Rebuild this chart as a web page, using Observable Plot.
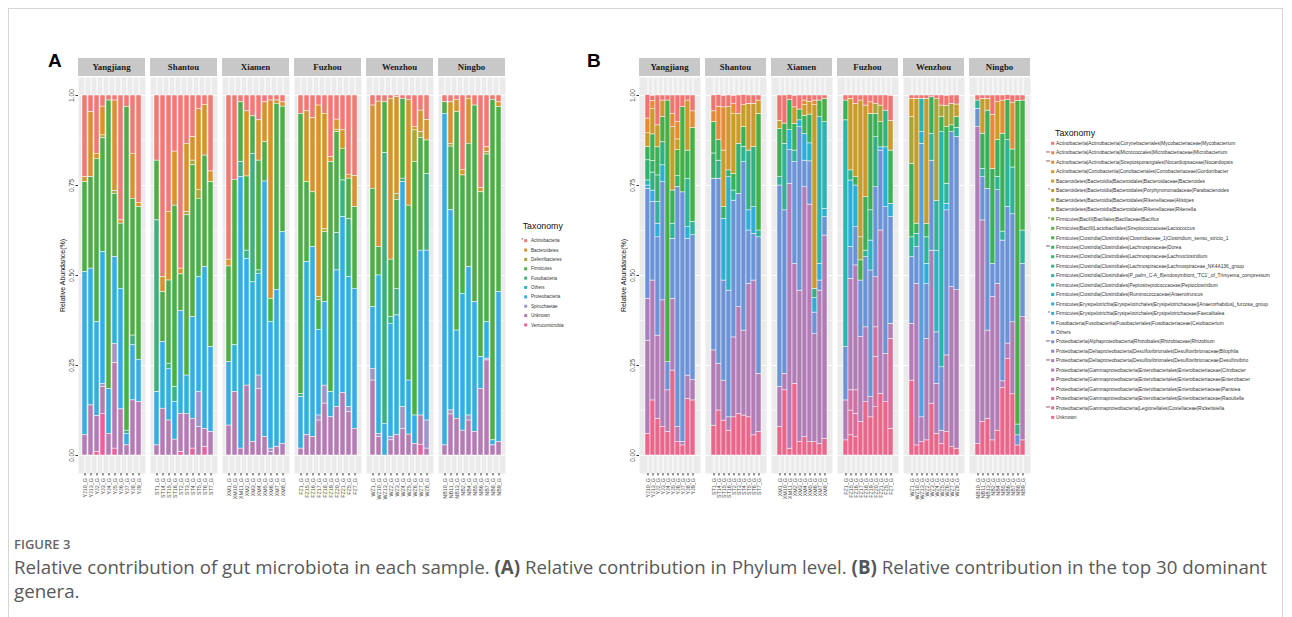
<!DOCTYPE html>
<html><head><meta charset="utf-8">
<script src="https://cdn.jsdelivr.net/npm/d3@7"></script>
<script src="https://cdn.jsdelivr.net/npm/@observablehq/plot@0.6"></script>
<style>
body{margin:0;background:#fff;width:1292px;height:617px;overflow:hidden;position:relative;font-family:"Liberation Sans",Arial,sans-serif;}
#frame{position:absolute;left:8px;top:8px;width:1275px;height:700px;border:1px solid #d6d6d6;box-sizing:border-box;}
.panel{position:absolute;top:50px;}
#panelA{left:40px;}
#panelB{left:580px;}
#overlay{position:absolute;left:0;top:0;}
#cap1{position:absolute;left:14px;top:535px;font:600 13px "Open Sans",sans-serif;color:#666;}
#cap2{position:absolute;left:14px;top:555px;font:18.7px/24px "Open Sans",sans-serif;color:#595959;white-space:nowrap;}
#cap2 b{font-weight:700;color:#555;}
</style></head><body>
<div id="frame"></div>
<div id="panelA" class="panel"></div>
<div id="panelB" class="panel"></div>
<svg id="overlay" width="1292" height="617"></svg>
<div id="cap1">FIGURE 3</div>
<div id="cap2">Relative contribution of gut microbiota in each sample. <b>(A)</b> Relative contribution in Phylum level. <b>(B)</b> Relative contribution in the top 30 dominant<br>genera.</div>
<script>
// ---------- categories ----------
const sites = ["Yangjiang","Shantou","Xiamen","Fuzhou","Wenzhou","Ningbo"];
const yangjiangSamples = ["YJ10_G","YJ13_G","YJ2_G","YJ3_G","YJ4_G","YJ5_G","YJ6_G","YJ7_G","YJ8_G","YJ9_G"];
const shantouSamples = ["ST1_G","ST14_G","ST15_G","ST16_G","ST2_G","ST3_G","ST4_G","ST5_G","ST6_G","ST7_G"];
const xiamenSamples = ["XM1_G","XM10_G","XM11_G","XM2_G","XM3_G","XM4_G","XM5_G","XM6_G","XM7_G","XM8_G"];
const fuzhouSamples = ["FZ1_G","FZ15_G","FZ16_G","FZ17_G","FZ18_G","FZ19_G","FZ20_G","FZ21_G","FZ5_G","FZ7_G"];
const wenzhouSamples = ["WZ1_G","WZ10_G","WZ13_G","WZ2_G","WZ3_G","WZ4_G","WZ5_G","WZ6_G","WZ7_G","WZ8_G"];
const ningboSamples = ["NB10_G","NB11_G","NB13_G","NB2_G","NB4_G","NB5_G","NB6_G","NB7_G","NB8_G","NB9_G"];
const yTicks = [0, 0.25, 0.5, 0.75, 1];
const yMinorTicks = [0.125, 0.375, 0.625, 0.875];
const yTitle = "Relative Abundance(%)";
const legendTitle = "Taxonomy";

// ---------- Panel A : phylum level (% per sample, samples in order above) ----------
const phyla = ["Actinobacteria","Bacteroidetes","Deferribacteres","Firmicutes","Fusobacteria","Others","Proteobacteria","Spirochaetae","Unknown","Verrucomicrobia"];
const phylaMarks = ["*","","","","","","","","",""];
const phylaColors = ["#F07A73","#D8922B","#A9A63B","#4CAE44","#3DB07D","#2BB6C0","#33ADE2","#9B95CC","#B47BB5","#E8619C"];
const actinobacteria = [22.7,4.6,16.2,3.1,1.4,1.4,34.7,3.2,16.2,29.8, 18.1,50.5,32.4,15.6,48.1,13.4,11.6,3.7,2.6,21.1, 45.6,23.4,1.9,4.4,5.8,6.9,1.9,1.4,1.4,1.9, 5.1,4.4,6.3,2.8,5.1,17.1,6.7,9.7,22.0,22.4, 2.8,1.7,1.9,0.9,0.5,0.9,1.2,8.8,4.2,6.8, 1.9,1.9,1.2,20.8,0.9,2.8,25.7,14.4,1.2,1.9];
const bacteroidetes = [1.4,18.1,1.4,8.0,0,25.2,0.9,0,12.5,1.2, 0,4.1,19.0,15.0,1.6,19.0,6.5,22.5,14.1,3.0, 1.9,0,0,18.1,0,11.2,11.1,55.1,0.9,1.2, 0,19.7,20.6,53.2,32.1,1.4,2.8,5.1,1.1,8.6, 23.1,40.4,0,44.7,26.8,0,29.4,0.9,6.0,5.7, 0,11.5,3.4,1.4,12.5,0,1.2,1.3,0,1.3];
const deferribacteres = [0,0,0,0.8,0,0.7,0,0,0,0, 0,0,0,0,0,0.9,1.3,2.5,0,0, 0,0,0,0,0,0,0,0,0,0, 0,0,0,0.9,0.8,0,0.7,0,0,0, 0,0,0,0,1.7,0,0,8.8,1.6,0, 0,0.8,0,0,0,0,0,0.7,0,0];
const firmicutes = [25.0,25.4,45.4,31.6,80.1,17.6,18.1,89.9,38.0,42.4, 16.6,13.9,23.1,50.4,10.2,44.5,42.2,21.8,31.0,45.8, 26.6,46.0,16.6,20.6,10.4,30.5,10.9,6.5,51.7,34.9, 77.8,22.2,15.2,8.2,19.4,63.9,28.0,8.8,11.3,22.7, 32.9,7.9,14.1,16.0,24.7,22.2,48.6,70.4,31.3,9.3, 3.2,17.7,60.7,32.9,34.3,54.6,45.8,46.6,94.6,51.4];
const fusobacteria = [0,0,0,0,0,0,0,0.9,2.7,0, 47.7,0,1.4,4.2,0,0,0,0,0,0, 0,0,4.2,2.3,35.7,0.9,0,0,0,0, 0.9,0,0,0,0,0,10.4,10.2,16.1,0, 0,0,75.2,1.8,7.4,1.0,0,0,0,21.3, 0,0,0,0,0,0,0,0,0,0];
const othersA = [0,0,0,0,0,0,0,0,0,0, 0,0,0,0,0,0,0,0,0,0, 0,0,0,0,0,0,0,0,0,0, 0,0,0,0,0,0,0,0,0,0, 0,0,0,0,0,0,0,0,0,0, 0,0,0,0,0,0,0,0,0,0];
const proteobacteria = [45.3,38.0,26.1,36.6,12.5,24.1,33.5,3.2,15.3,11.8, 14.8,18.5,14.4,10.4,28.5,10.6,28.2,31.9,44.9,23.6, 17.6,13.0,75.4,35.2,44.4,28.3,71.0,35.1,43.7,58.8, 14.3,48.1,52.8,23.8,23.2,7.0,38.0,48.9,36.1,38.9, 17.1,44.0,8.8,31.5,33.3,62.5,15.0,7.9,45.8,47.2, 92.1,55.6,24.5,38.0,41.2,36.1,8.8,10.1,1.4,41.7];
const spirochaetae = [0,0,0,0.9,0,5.3,0,0,0,0, 0,0,0,0,0,0,0,9.7,0,0, 0,0,0,0,0,3.7,0,1.0,0,0, 0,0,0,1.4,5.0,0,0,0,1.4,0, 3.3,0.9,0,0.9,0,6.0,0,0,0,7.8, 0,1.1,0,0,1.4,0,0,0.5,0,0];
const unknownA = [5.6,13.9,10.0,7.4,6.0,23.8,12.8,2.8,15.3,14.8, 2.8,13.0,9.7,4.4,10.7,11.6,8.3,7.9,5.1,6.5, 8.3,17.6,1.9,19.4,3.7,18.5,5.1,0.9,2.3,3.2, 1.9,5.6,5.1,9.7,14.4,10.6,13.4,17.3,12.0,7.4, 20.8,5.1,0,4.2,5.6,7.4,5.8,3.2,8.1,1.9, 2.8,11.4,10.2,6.9,9.7,6.5,18.5,26.4,2.8,3.7];
const verrucomicrobia = [0,0,0.9,11.6,0,1.9,0,0,0,0, 0,0,0,0,0.9,0,1.9,0,2.3,0, 0,0,0,0,0,0,0,0,0,0, 0,0,0,0,0,0,0,0,0,0, 0,0,0,0,0,0,0,0,3.0,0, 0,0,0,0,0,0,0,0,0,0];
const phylumSeries = [actinobacteria,bacteroidetes,deferribacteres,firmicutes,fusobacteria,othersA,proteobacteria,spirochaetae,unknownA,verrucomicrobia];

// ---------- Panel B : top 30 genera ----------
const genera = [
"Actinobacteria|Actinobacteria|Corynebacteriales|Mycobacteriaceae|Mycobacterium",
"Actinobacteria|Actinobacteria|Micrococcales|Microbacteriaceae|Microbacterium",
"Actinobacteria|Actinobacteria|Streptosporangiales|Nocardiopsaceae|Nocardiopsis",
"Actinobacteria|Coriobacteriia|Coriobacteriales|Coriobacteriaceae|Gordonibacter",
"Bacteroidetes|Bacteroidia|Bacteroidales|Bacteroidaceae|Bacteroides",
"Bacteroidetes|Bacteroidia|Bacteroidales|Porphyromonadaceae|Parabacteroides",
"Bacteroidetes|Bacteroidia|Bacteroidales|Rikenellaceae|Alistipes",
"Bacteroidetes|Bacteroidia|Bacteroidales|Rikenellaceae|Rikenella",
"Firmicutes|Bacilli|Bacillales|Bacillaceae|Bacillus",
"Firmicutes|Bacilli|Lactobacillales|Streptococcaceae|Lactococcus",
"Firmicutes|Clostridia|Clostridiales|Clostridiaceae_1|Clostridium_sensu_stricto_1",
"Firmicutes|Clostridia|Clostridiales|Lachnospiraceae|Dorea",
"Firmicutes|Clostridia|Clostridiales|Lachnospiraceae|Lachnoclostridium",
"Firmicutes|Clostridia|Clostridiales|Lachnospiraceae|Lachnospiraceae_NK4A136_group",
"Firmicutes|Clostridia|Clostridiales|P_palm_C-A_8|endosymbiont_'TC1'_of_Trimyema_compressum",
"Firmicutes|Clostridia|Clostridiales|Peptostreptococcaceae|Peptoclostridium",
"Firmicutes|Clostridia|Clostridiales|Ruminococcaceae|Anaerotruncus",
"Firmicutes|Erysipelotrichia|Erysipelotrichales|Erysipelotrichaceae|[Anaerorhabdus]_furcosa_group",
"Firmicutes|Erysipelotrichia|Erysipelotrichales|Erysipelotrichaceae|Faecalitalea",
"Fusobacteria|Fusobacteriia|Fusobacteriales|Fusobacteriaceae|Cetobacterium",
"Others",
"Proteobacteria|Alphaproteobacteria|Rhizobiales|Rhizobiaceae|Rhizobium",
"Proteobacteria|Deltaproteobacteria|Desulfovibrionales|Desulfovibrionaceae|Bilophila",
"Proteobacteria|Deltaproteobacteria|Desulfovibrionales|Desulfovibrionaceae|Desulfovibrio",
"Proteobacteria|Gammaproteobacteria|Enterobacteriales|Enterobacteriaceae|Citrobacter",
"Proteobacteria|Gammaproteobacteria|Enterobacteriales|Enterobacteriaceae|Enterobacter",
"Proteobacteria|Gammaproteobacteria|Enterobacteriales|Enterobacteriaceae|Pantoea",
"Proteobacteria|Gammaproteobacteria|Enterobacteriales|Enterobacteriaceae|Raoultella",
"Proteobacteria|Gammaproteobacteria|Legionellales|Coxiellaceae|Rickettsiella",
"Unknown"];
const generaMarks = ["","**","**","","","*","","","*","","","**","","","","","","","*","","","**","","**","","","","","**",""];
const generaColors = ["#F07470","#EE8050","#E88A35","#DA9628","#C99B2A","#B8A030","#A6A536","#92AA38","#7AAE3A","#5EB13E",
"#45B045","#3BB058","#37B06E","#33B083","#2FB298","#2BB3AD","#2AB3C2","#2CAFD6","#3EA8E2","#559FE2",
"#6C93D6","#8289CE","#9683C6","#A67FBF","#B27CB7","#C277AD","#CE72A4","#D96E9B","#E26A93","#EA678B"];
// each sample: [genus index, % abundance]
const generaYangjiang = [
 [[29,6.0],[24,25.9],[23,11.6],[20,30.6],[18,0.9],[15,1.4],[12,5.6],[11,3.7],[4,3.8],[2,4.1],[0,6.5]],
 [[29,15.3],[24,33.3],[20,21.8],[18,3.2],[13,5.0],[12,3.2],[11,7.4],[4,7.0],[2,2.3],[0,1.4]],
 [[29,10.2],[24,23.1],[20,27.3],[17,3.8],[14,6.0],[12,7.4],[11,7.8],[4,6.1],[0,8.3]],
 [[29,7.9],[24,35.2],[20,32.8],[17,4.7],[13,6.4],[10,7.0],[4,4.6],[0,1.4]],
 [[29,6.5],[24,11.6],[20,7.8],[10,72.7],[0,1.4]],
 [[29,23.6],[24,19.9],[20,16.7],[14,4.2],[11,9.2],[4,17.6],[2,3.7],[0,5.1]],
 [[29,3.7],[24,4.2],[20,66.7],[12,3.0],[10,7.2],[4,3.0],[2,4.8],[0,7.4]],
 [[29,2.8],[24,1.0],[20,69.3],[10,23.7],[0,3.2]],
 [[29,15.7],[24,6.5],[20,38.0],[17,3.2],[14,13.4],[11,7.9],[4,13.9],[0,1.4]],
 [[29,15.3],[24,5.6],[20,40.3],[14,3.7],[10,26.1],[2,4.6],[0,4.4]]];
const generaShantou = [
 [[29,8.3],[24,20.9],[20,47.7],[12,7.0],[11,8.7],[2,3.0],[0,4.4]],
 [[29,12.5],[24,13.0],[20,51.4],[13,5.0],[11,5.7],[2,9.3],[0,3.2]],
 [[29,9.7],[24,11.1],[20,27.8],[17,17.1],[12,3.3],[4,15.7],[2,12.0],[0,3.2]],
 [[29,6.9],[24,3.7],[20,35.2],[16,31.5],[12,1.9],[4,17.6],[0,3.2]],
 [[29,10.6],[24,22.2],[20,38.0],[14,2.8],[11,4.6],[4,16.6],[2,2.8],[0,2.3]],
 [[29,11.6],[24,29.6],[20,31.5],[12,13.9],[4,8.3],[0,5.1]],
 [[29,11.1],[24,23.6],[20,46.8],[14,4.2],[11,5.6],[4,6.0],[0,2.8]],
 [[29,10.6],[24,37.1],[20,14.8],[17,5.6],[13,16.6],[4,13.0],[0,2.3]],
 [[29,5.6],[24,43.0],[20,13.0],[17,7.4],[13,16.7],[4,12.0],[0,2.3]],
 [[29,6.5],[24,16.2],[20,37.9],[14,1.9],[10,32.4],[4,3.7],[0,1.4]]];
const generaXiamen = [
 [[29,7.9],[24,11.1],[20,56.0],[14,2.3],[11,13.4],[4,2.3],[0,7.0]],
 [[29,18.1],[24,4.6],[20,45.4],[14,18.5],[11,5.6],[0,7.8]],
 [[29,1.9],[24,73.6],[20,9.3],[17,5.6],[11,8.3],[0,1.4]],
 [[29,19.9],[24,33.3],[20,28.3],[14,3.2],[11,7.4],[4,4.6],[0,3.2]],
 [[29,3.7],[24,42.1],[20,45.4],[17,1.9],[11,3.0],[0,3.9]],
 [[29,5.1],[24,69.4],[20,7.4],[17,7.4],[11,5.0],[4,3.0],[2,1.3],[0,1.4]],
 [[29,3.7],[24,66.0],[20,12.0],[16,5.0],[11,8.0],[4,3.5],[0,1.8]],
 [[29,3.7],[24,30.0],[20,6.0],[17,4.0],[13,2.6],[4,51.0],[2,1.3],[0,1.4]],
 [[29,3.2],[24,42.6],[20,2.8],[17,4.6],[15,40.8],[10,4.6],[0,1.4]],
 [[29,4.6],[24,56.5],[20,5.1],[17,2.3],[15,24.1],[10,6.5],[0,0.9]]];
const generaFuzhou = [
 [[29,4.2],[24,11.1],[20,14.8],[15,63.0],[11,5.5],[0,1.4]],
 [[29,5.6],[27,6.9],[26,5.6],[24,31.0],[20,8.8],[17,18.5],[13,2.8],[4,19.9],[0,0.9]],
 [[29,5.1],[27,6.5],[26,6.5],[24,34.7],[20,10.6],[17,11.6],[11,2.3],[4,20.4],[0,2.3]],
 [[29,9.3],[24,23.6],[20,15.7],[10,5.6],[6,6.4],[4,38.0],[0,1.4]],
 [[29,14.8],[24,20.8],[20,19.5],[14,1.8],[11,14.9],[4,25.4],[0,2.8]],
 [[29,10.6],[24,5.6],[20,35.2],[16,8.3],[13,8.4],[11,26.8],[2,3.2],[0,1.9]],
 [[29,13.4],[27,14.0],[26,8.2],[24,13.9],[20,25.0],[13,13.9],[11,6.5],[6,2.8],[0,2.3]],
 [[29,17.1],[24,45.4],[20,22.2],[18,0.9],[11,7.0],[6,4.6],[0,2.8]],
 [[29,14.8],[24,13.4],[20,40.8],[17,16.6],[13,10.2],[0,4.2]],
 [[29,7.4],[27,25.0],[24,4.2],[20,29.6],[17,3.7],[11,14.8],[4,8.3],[0,6.9]]];
const generaWenzhou = [
 [[29,20.8],[24,15.8],[20,18.5],[14,5.5],[11,20.4],[6,13.0],[4,5.1],[0,0.9]],
 [[29,2.8],[24,44.9],[20,10.2],[14,3.7],[11,2.8],[4,34.7],[0,0.9]],
 [[29,3.7],[24,6.9],[19,76.0],[17,3.2],[15,9.3],[0,0.9]],
 [[29,4.2],[24,28.2],[20,15.2],[17,5.6],[14,7.4],[11,3.7],[4,34.8],[0,0.9]],
 [[29,14.4],[24,42.5],[20,25.0],[14,7.4],[11,10.2],[0,0.5]],
 [[29,6.0],[24,13.9],[20,14.3],[16,22.6],[14,13.9],[6,28.3],[0,1.0]],
 [[29,3.2],[24,3.7],[20,17.6],[15,65.3],[11,4.2],[6,3.2],[0,2.8]],
 [[29,6.5],[24,21.3],[20,40.3],[17,1.8],[14,5.6],[11,15.7],[6,5.9],[0,2.8]],
 [[29,2.3],[24,44.5],[20,43.0],[11,1.9],[6,6.0],[0,2.3]],
 [[29,1.9],[24,44.0],[20,42.6],[14,2.5],[11,3.0],[4,3.5],[0,2.5]]];
const generaNingbo = [
 [[29,3.2],[24,88.0],[20,5.1],[14,2.3],[0,1.4]],
 [[29,9.3],[24,56.0],[20,12.0],[14,2.3],[11,9.8],[4,9.7],[0,0.9]],
 [[29,10.2],[24,24.5],[20,39.4],[11,21.7],[4,3.3],[0,0.9]],
 [[29,4.2],[24,39.8],[20,9.2],[11,26.4],[2,15.0],[0,5.4]],
 [[29,6.9],[24,40.8],[20,26.0],[14,3.7],[11,10.2],[4,10.6],[0,1.8]],
 [[29,18.7],[24,1.9],[20,39.1],[14,2.5],[11,27.2],[2,9.2],[0,1.4]],
 [[29,26.9],[24,4.2],[20,38.0],[14,18.5],[11,11.1],[0,1.4]],
 [[29,17.0],[24,20.0],[20,30.0],[14,13.0],[11,5.0],[2,13.0],[0,2.0]],
 [[29,2.8],[20,2.8],[13,3.0],[10,89.9],[0,1.5]],
 [[29,4.2],[24,34.2],[20,14.8],[14,9.3],[10,36.1],[0,1.4]]];

// ---------- assemble tables ----------
const sampleLists = [yangjiangSamples,shantouSamples,xiamenSamples,fuzhouSamples,wenzhouSamples,ningboSamples];
const generaLists = [generaYangjiang,generaShantou,generaXiamen,generaFuzhou,generaWenzhou,generaNingbo];
const samples = sites.flatMap((site, si) => sampleLists[si].map((name, idx) => ({site, idx, name})));
const rowsA = phyla.flatMap((taxon, pi) => samples.map((s, k) => ({...s, taxon, value: phylumSeries[pi][k]})));
const rowsB = sites.flatMap((site, si) => generaLists[si].flatMap((comp, idx) =>
  comp.map(([g, v]) => ({site, idx, taxon: genera[g], value: v}))));

function panel(rows, taxa, colors, width, marginLeft, fxPad) {
  const first = sites[0];
  const plot = Plot.plot({
    width, height: 463, marginLeft, marginRight: 5, marginTop: 27, marginBottom: 40,
    style: {fontFamily: "Liberation Sans, Arial, sans-serif", fontSize: "7px", color: "#4d4d4d", background: "transparent", overflow: "visible"},
    fx: {domain: sites, paddingInner: fxPad, paddingOuter: 0, axis: null, label: null},
    x: {type: "band", domain: d3.range(10), paddingInner: 0.1, paddingOuter: 0.15, label: null},
    y: {domain: [0, 1], insetTop: 18, insetBottom: 18, label: null},
    color: {domain: taxa, range: colors},
    marks: [
      Plot.frame({fill: "#ebebeb", stroke: null}),
      Plot.gridY({ticks: yMinorTicks, stroke: "#fff", strokeOpacity: 1, strokeWidth: 0.5}),
      Plot.gridY({ticks: yTicks, stroke: "#fff", strokeOpacity: 1, strokeWidth: 1}),
      Plot.gridX({stroke: "#fff", strokeOpacity: 1, strokeWidth: 1}),
      Plot.barY(rows, {fx: "site", x: "idx", y: d => d.value / 100, fill: "taxon", order: taxa.slice().reverse(), stroke: "#fff", strokeWidth: 0.5}),
      Plot.axisX({tickSize: 2.5, tickFormat: () => "", label: null, stroke: "#333"}),
      Plot.text(samples, {fx: "site", x: "idx", text: "name", frameAnchor: "bottom", rotate: -90, textAnchor: "end", lineAnchor: "middle", dy: 4.5, fontSize: 5.4, fill: "#4d4d4d"}),
      Plot.axisY({ticks: yTicks, tickSize: 2.5, tickFormat: () => "", label: null, stroke: "#333"}),
      Plot.text(yTicks, {fx: () => first, y: d => d, text: d => d.toFixed(2), frameAnchor: "left", dx: -7, rotate: -90, textAnchor: "middle", lineAnchor: "middle", fontSize: 6.8, fill: "#4d4d4d"}),
      Plot.text([yTitle], {fx: () => first, text: d => d, frameAnchor: "left", dx: -15.5, rotate: -90, textAnchor: "middle", lineAnchor: "middle", fontSize: 7, fill: "#111"})
    ]
  });
  // facet strips
  const fx = plot.scale("fx");
  const sc = d3.scaleBand().domain(fx.domain).range(fx.range).paddingInner(fxPad).paddingOuter(0);
  const g = d3.select(plot).append("g");
  for (const s of sites) {
    const x0 = fx.apply ? fx.apply(s) : sc(s);
    const bw = fx.bandwidth ?? sc.bandwidth();
    g.append("rect").attr("x", x0).attr("y", 8).attr("width", bw).attr("height", 18).attr("fill", "#c8c8c8");
    g.append("text").attr("x", x0 + bw / 2).attr("y", 17).attr("dy", "0.35em").attr("text-anchor", "middle")
      .attr("font-family", "Liberation Serif, serif").attr("font-weight", "bold").attr("font-size", 8.8).attr("fill", "#1a1a1a").text(s);
  }
  return plot;
}

document.getElementById("panelA").appendChild(panel(rowsA, phyla, phylaColors, 472, 36, 0.066));
document.getElementById("panelB").appendChild(panel(rowsB, genera, generaColors, 457, 56, 0.076));

// ---------- overlay: panel tags + legends ----------
const ov = d3.select("#overlay");
ov.append("text").attr("x", 48).attr("y", 67).attr("font-family", "Liberation Sans").attr("font-weight", "bold").attr("font-size", 19).text("A");
ov.append("text").attr("x", 587).attr("y", 67).attr("font-family", "Liberation Sans").attr("font-weight", "bold").attr("font-size", 19).text("B");

function legend(x, titleY, y0, step, taxa, colors, marks, fs, keyX, labelX) {
  ov.append("text").attr("x", x).attr("y", titleY).attr("font-family", "Liberation Sans").attr("font-size", 8.8).attr("fill", "#111").text(legendTitle);
  taxa.forEach((t, i) => {
    const cy = y0 + i * step;
    ov.append("rect").attr("x", keyX - 1.5).attr("y", cy - 1.5).attr("width", 3).attr("height", 3).attr("fill", colors[i]);
    ov.append("text").attr("x", labelX).attr("y", cy).attr("dy", "0.35em").attr("font-family", "Liberation Sans").attr("font-size", fs).attr("fill", "#333").text(t);
    if (marks[i]) ov.append("text").attr("x", keyX - 2.5).attr("y", cy).attr("dy", "0.35em").attr("text-anchor", "end").attr("font-family", "Liberation Sans").attr("font-size", fs + 0.5).attr("fill", "#7a3b3b").text(marks[i]);
  });
}
legend(522.7, 229, 240.7, 9.36, phyla, phylaColors, phylaMarks, 4.5, 525.7, 531);
legend(1055, 135.5, 143.3, 9.45, genera, generaColors, generaMarks, 4.9, 1052.7, 1056);
</script>
</body></html>
